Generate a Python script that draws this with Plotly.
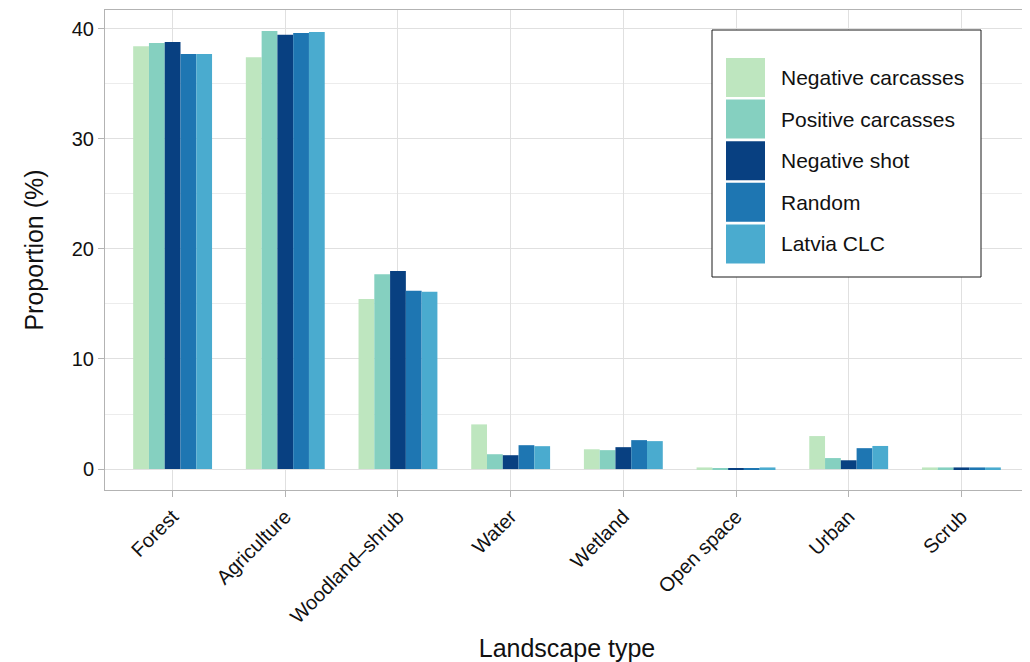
import plotly.graph_objects as go

categories = ["Forest", "Agriculture", "Woodland\u2013shrub", "Water", "Wetland",
              "Open space", "Urban", "Scrub"]
series_names = ["Negative carcasses", "Positive carcasses", "Negative shot", "Random", "Latvia CLC"]
neg_carcasses = [38.4, 37.4, 15.45, 4.06, 1.8, 0.15, 3.0, 0.15]
pos_carcasses = [38.7, 39.8, 17.7, 1.35, 1.72, 0.06, 1.0, 0.15]
neg_shot = [38.8, 39.45, 18.0, 1.26, 1.99, 0.03, 0.8, 0.15]
random_pts = [37.7, 39.6, 16.2, 2.17, 2.63, 0.03, 1.9, 0.15]
latvia_clc = [37.7, 39.7, 16.1, 2.08, 2.54, 0.15, 2.1, 0.15]
colors = ["#bee6bf", "#85d0c0", "#084081", "#1e76b2", "#4aabcf"]
y_ticks = [0, 10, 20, 30, 40]

series_values = [neg_carcasses, pos_carcasses, neg_shot, random_pts, latvia_clc]

FONT = "Liberation Sans, Arial, Helvetica, sans-serif"
OFF = 8  # page body margin
W, H = 1030 - OFF, 662 - OFF
L, R, T, B = 105 - OFF, 1, 10 - OFF, 172

fig = go.Figure()
for name, vals, col in zip(series_names, series_values, colors):
    fig.add_trace(go.Bar(x=categories, y=vals, name=name, marker=dict(color=col, line=dict(width=0)),
                         showlegend=False))

fig.update_layout(
    width=W, height=H,
    margin=dict(l=L, r=R, t=T, b=B, autoexpand=False),
    barmode="group", bargap=0.3, bargroupgap=0,
    plot_bgcolor="white", paper_bgcolor="white",
    font=dict(family=FONT, color="#111111", size=20),
    xaxis=dict(
        range=[-0.6, 7.6], tickangle=-45, showgrid=True, gridcolor="#e0e0e0", gridwidth=1,
        ticks="outside", ticklen=6, tickcolor="#b3b3b3", tickfont=dict(size=20, color="#111111"),
        showline=True, linecolor="#b3b3b3", linewidth=1, mirror=True, zeroline=False,
        title=dict(text="Landscape type", font=dict(size=25), standoff=22),
    ),
    yaxis=dict(
        range=[-1.9, 41.7], tickvals=y_ticks, showgrid=True, gridcolor="#e0e0e0", gridwidth=1,
        ticks="outside", ticklen=6, tickcolor="#b3b3b3", tickfont=dict(size=20, color="#111111"),
        showline=True, linecolor="#b3b3b3", linewidth=1, mirror=True, zeroline=False,
        minor=dict(showgrid=True, gridcolor="#ececec", gridwidth=0.6, dtick=5, tick0=0),
        title=dict(text="Proportion (%)", font=dict(size=25), standoff=21),
    ),
)

# custom legend (page pixel -> paper coordinates)
pw, ph = W - L - R, H - T - B
def px_x(x):
    return (x - OFF - L) / pw
def px_y(y):
    return 1 - (y - OFF - T) / ph

shapes = [dict(type="rect", xref="paper", yref="paper",
               x0=px_x(712), x1=px_x(981), y0=px_y(277), y1=px_y(30),
               line=dict(color="#1a1a1a", width=1), fillcolor="white", layer="above")]
annotations = []
for i, (name, col) in enumerate(zip(series_names, colors)):
    top = 58 + i * 41.6
    shapes.append(dict(type="rect", xref="paper", yref="paper",
                       x0=px_x(726), x1=px_x(765), y0=px_y(top + 39), y1=px_y(top),
                       line=dict(width=0), fillcolor=col, layer="above"))
    annotations.append(dict(xref="paper", yref="paper", x=px_x(779), y=px_y(top + 19.5),
                            text=name, showarrow=False, xanchor="left", yanchor="middle",
                            font=dict(size=21, color="#111111")))
fig.update_layout(shapes=shapes, annotations=annotations)

fig.write_html("out.html")
